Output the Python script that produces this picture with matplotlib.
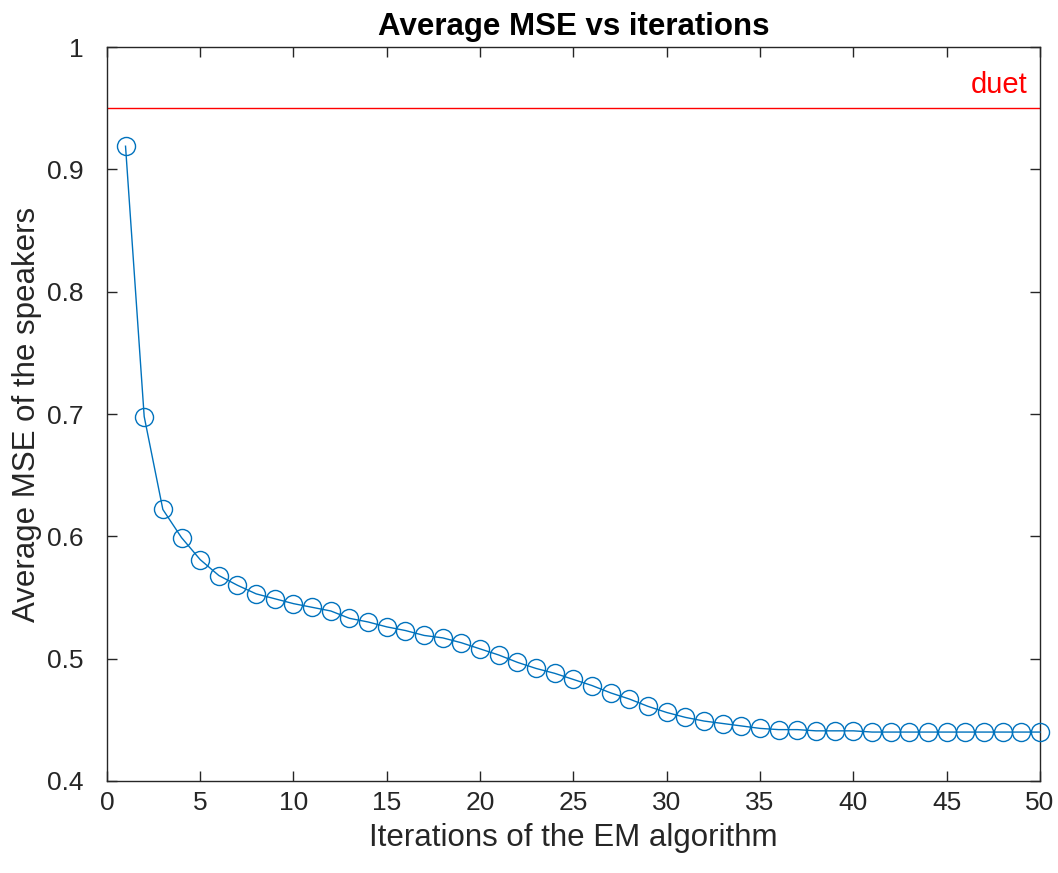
import matplotlib.pyplot as plt

# valeurs
iterations = list(range(1, 51))
mse = [0.919, 0.698, 0.622, 0.599, 0.581, 0.568, 0.560, 0.553, 0.549, 0.545,
       0.542, 0.539, 0.533, 0.530, 0.526, 0.523, 0.519, 0.517, 0.513, 0.508,
       0.503, 0.497, 0.492, 0.488, 0.483, 0.478, 0.472, 0.467, 0.461, 0.456,
       0.452, 0.449, 0.447, 0.445, 0.443, 0.442, 0.442, 0.441, 0.441, 0.441,
       0.440, 0.440, 0.440, 0.440, 0.440, 0.440, 0.440, 0.440, 0.440, 0.440]
duet_level = 0.95

plt.rcParams['font.family'] = ['Liberation Sans', 'DejaVu Sans']

fig = plt.figure(figsize=(10.58, 8.73), dpi=100)
ax = fig.add_axes([0.101, 0.1054, 0.882, 0.8406])

ax.plot(iterations, mse, color='#0072BD', linewidth=1.0, marker='o',
        markersize=13, markerfacecolor='none', markeredgewidth=1.0,
        clip_on=False, zorder=3)
ax.axhline(duet_level, color='red', linewidth=1.0)
ax.text(49.35, duet_level + 0.008, 'duet', color='red', fontsize=21,
        ha='right', va='bottom')

ax.set_xlim(0, 50)
ax.set_ylim(0.4, 1.0)
ax.set_xticks(range(0, 51, 5))
ax.set_yticks([0.4, 0.5, 0.6, 0.7, 0.8, 0.9, 1.0])
ax.set_yticklabels(['0.4', '0.5', '0.6', '0.7', '0.8', '0.9', '1'])
ax.tick_params(direction='in', top=True, right=True, labelsize=19,
               colors='#262626', length=7, width=1)
ax.tick_params(axis='y', pad=17)
ax.tick_params(axis='x', pad=7)
for s in ax.spines.values():
    s.set_color('#262626')
    s.set_linewidth(1)

ax.set_xlabel('Iterations of the EM algorithm', fontsize=22.5,
              color='#262626', labelpad=6)
ax.set_ylabel('Average MSE of the speakers', fontsize=22.5,
              color='#262626', labelpad=3)
ax.set_title('Average MSE vs iterations', fontsize=22.5, fontweight='bold',
             pad=9)

fig.savefig('out.png', dpi=100)
